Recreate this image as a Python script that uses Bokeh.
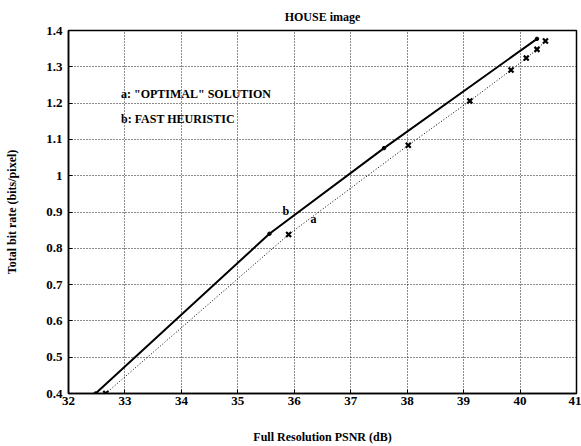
from bokeh.plotting import figure
from bokeh.models import FixedTicker, Range1d
from bokeh.core.properties import value
from bokeh.embed import file_html
from bokeh.resources import INLINE

# Data
psnr_a = [32.48, 35.56, 37.59, 40.30]
rate_a = [0.40, 0.84, 1.076, 1.377]

psnr_b = [32.66, 35.90, 38.02, 39.11, 39.84, 40.11, 40.30, 40.45]
rate_b = [0.40, 0.838, 1.084, 1.206, 1.291, 1.324, 1.348, 1.371]

x_ticks = [32, 33, 34, 35, 36, 37, 38, 39, 40, 41]
y_ticks = [0.4, 0.5, 0.6, 0.7, 0.8, 0.9, 1.0, 1.1, 1.2, 1.3, 1.4]
y_tick_labels = {0.4: "0.4", 0.5: "0.5", 0.6: "0.6", 0.7: "0.7", 0.8: "0.8", 0.9: "0.9",
                 1.0: "1", 1.1: "1.1", 1.2: "1.2", 1.3: "1.3", 1.4: "1.4"}

legend_lines = ['a: "OPTIMAL" SOLUTION', 'b: FAST HEURISTIC']
legend_x = [32.93, 32.93]
legend_y = [1.224, 1.155]

curve_labels = ["b", "a"]
curve_label_x = [35.85, 36.34]
curve_label_y = [0.902, 0.88]

FONT = "Liberation Serif"

p = figure(width=581, height=446, output_backend="svg", toolbar_location=None,
           x_range=Range1d(32, 41), y_range=Range1d(0.4, 1.4),
           title="HOUSE image",
           min_border_left=68, min_border_right=5, min_border_top=29, min_border_bottom=51)

p.title.align = "center"
p.title.text_font = FONT
p.title.text_font_size = "12px"
p.title.text_font_style = "bold"
p.title.text_color = "black"
p.title.standoff = 14

p.outline_line_color = "black"
p.outline_line_width = 1.5
p.outline_line_alpha = 1.0

for ax in (p.xaxis[0], p.yaxis[0]):
    ax.axis_line_color = "black"
    ax.axis_line_width = 1.5
    ax.major_tick_in = 4
    ax.major_tick_out = 0
    ax.minor_tick_line_color = None
    ax.major_label_text_font = FONT
    ax.major_label_text_font_size = "13px"
    ax.major_label_text_font_style = "bold"
    ax.major_label_text_color = "black"
    ax.axis_label_text_font = FONT
    ax.axis_label_text_font_size = "12px"
    ax.axis_label_text_font_style = "bold"
    ax.axis_label_text_color = "black"

p.xaxis.ticker = FixedTicker(ticks=x_ticks)
p.yaxis.ticker = FixedTicker(ticks=y_ticks)
p.yaxis.major_label_overrides = y_tick_labels
p.xaxis.axis_label = "Full Resolution PSNR (dB)"
p.yaxis.axis_label = "Total bit rate (bits/pixel)"
p.xaxis.major_label_standoff = 3
p.yaxis.major_label_standoff = 6
p.xaxis.axis_label_standoff = 22
p.yaxis.axis_label_standoff = 24

for g in (p.xgrid[0], p.ygrid[0]):
    g.grid_line_color = "black"
    g.grid_line_dash = "1 2"
    g.grid_line_width = 1
    g.grid_line_alpha = 0.9

p.xgrid.ticker = FixedTicker(ticks=x_ticks)
p.ygrid.ticker = FixedTicker(ticks=y_ticks)

# Curve a: optimal solution (solid)
p.line(psnr_a, rate_a, line_color="black", line_width=2)
p.scatter(psnr_a, rate_a, marker="circle", size=3.5, fill_color="black", line_color="black")

# Curve b: fast heuristic (dotted with x markers)
p.line(psnr_b, rate_b, line_color="black", line_width=1, line_dash="1 2")
p.scatter(psnr_b, rate_b, marker="x", size=7, line_color="black", line_width=2.2)

# Legend-like annotations
p.text(x=legend_x, y=legend_y, text=legend_lines, text_font=value(FONT),
       text_font_size="12px", text_font_style="bold", text_color="black",
       text_baseline="middle", text_align="left")

p.text(x=curve_label_x, y=curve_label_y, text=curve_labels, text_font=value(FONT),
       text_font_size="12px", text_font_style="bold", text_color="black",
       text_baseline="middle", text_align="center")

open("out.html", "w").write(file_html(p, INLINE))
